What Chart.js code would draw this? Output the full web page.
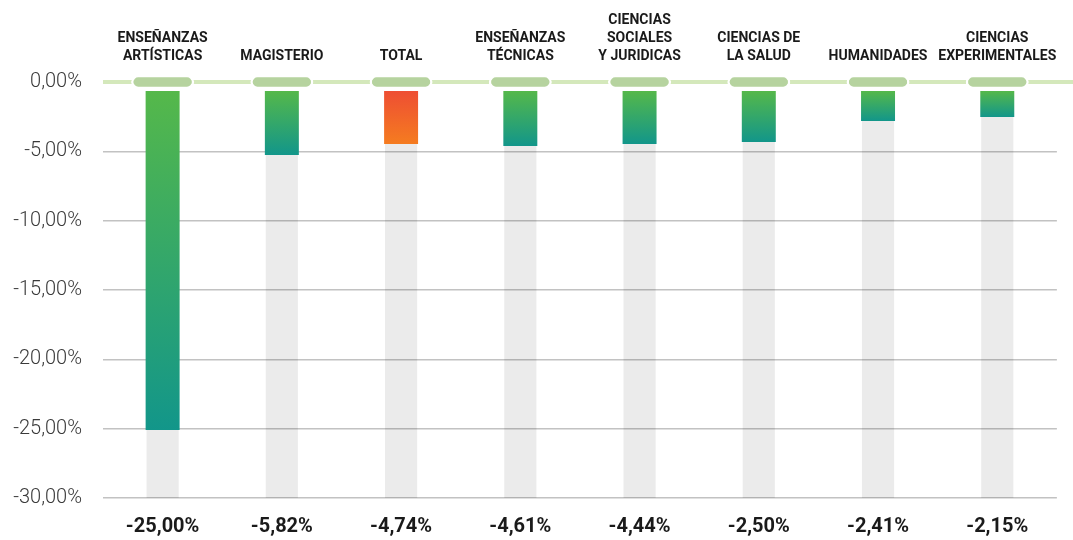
<!DOCTYPE html>
<html>
<head>
<meta charset="utf-8">
<script src="https://cdn.jsdelivr.net/npm/chart.js@4"></script>
<style>
  html, body { margin: 0; padding: 0; background: #fff; }
  #wrap { width: 1073px; height: 540px; }
</style>
</head>
<body>
<div id="wrap"><canvas id="chart"></canvas></div>
<script>
const categories = [
  ['ENSEÑANZAS', 'ARTÍSTICAS'],
  'MAGISTERIO',
  'TOTAL',
  ['ENSEÑANZAS', 'TÉCNICAS'],
  ['CIENCIAS', 'SOCIALES', 'Y JURIDICAS'],
  ['CIENCIAS DE', 'LA SALUD'],
  'HUMANIDADES',
  ['CIENCIAS', 'EXPERIMENTALES']
]
const valueLabels = ['-25,00%', '-5,82%', '-4,74%', '-4,61%', '-4,44%', '-2,50%', '-2,41%', '-2,15%']
// where each bar ends in the picture (the drawing does not follow the labels exactly)
const barEnds = [-25.1, -5.26, -4.47, -4.61, -4.47, -4.33, -2.81, -2.52]
const barStart = -0.65
const trackEnd = -30
const yTicks = ['0,00%', '-5,00%', '-10,00%', '-15,00%', '-20,00%', '-25,00%', '-30,00%']

const highlight = 'TOTAL'
const greenTeal = ['#55b84a', '#12968a']
const orange = ['#ee4e33', '#f57c20']

const gradient = (ctx) => {
  const chart = ctx.chart
  if (!chart.chartArea || ctx.type !== 'data') return greenTeal[1]
  const colors = categories[ctx.dataIndex] === highlight ? orange : greenTeal
  const y = chart.scales.y
  const g = chart.ctx.createLinearGradient(0, y.getPixelForValue(ctx.raw[0]), 0, y.getPixelForValue(ctx.raw[1]))
  g.addColorStop(0, colors[0])
  g.addColorStop(1, colors[1])
  return g
}

// light green line at 0, runs to the right edge of the picture
const zeroLine = {
  id: 'zeroLine',
  beforeDatasetsDraw(chart) {
    const c = chart.ctx
    const y = chart.scales.y.getPixelForValue(0)
    c.save()
    c.strokeStyle = '#d4e8bb'
    c.lineWidth = 4
    c.beginPath()
    c.moveTo(chart.chartArea.left, y)
    c.lineTo(chart.width, y)
    c.stroke()
    c.restore()
  }
}

const pillHalf = 0.52

new Chart(document.getElementById('chart'), {
  type: 'bar',
  data: {
    labels: categories,
    datasets: [
      {
        data: categories.map(() => [pillHalf, -pillHalf]),
        backgroundColor: '#b6d39f',
        borderColor: '#ffffff',
        borderWidth: 2.5,
        borderSkipped: false,
        borderRadius: 8,
        grouped: false,
        barPercentage: 0.53,
        categoryPercentage: 1,
        clip: false
      },
      {
        data: barEnds.map(v => [barStart, v]),
        backgroundColor: gradient,
        grouped: false,
        barPercentage: 0.285,
        categoryPercentage: 1
      },
      {
        data: barEnds.map(() => [barStart, trackEnd]),
        backgroundColor: 'rgba(0,0,0,0.08)',
        grouped: false,
        barPercentage: 0.27,
        categoryPercentage: 1
      }
    ]
  },
  options: {
    responsive: true,
    maintainAspectRatio: false,
    animation: false,
    layout: { padding: { left: 2, right: 12 } },
    plugins: {
      legend: { display: false },
      tooltip: { enabled: false }
    },
    scales: {
      x: {
        position: 'top',
        grid: { display: false, drawTicks: false },
        border: { display: false },
        ticks: {
          color: '#1a1a1a',
          font: { family: 'Roboto', size: 14, weight: 'bold', lineHeight: 1.3 },
          padding: 16,
          maxRotation: 0,
          autoSkip: false
        },
        afterFit: (s) => { s.height = 82 }
      },
      x2: {
        type: 'category',
        labels: valueLabels,
        position: 'bottom',
        offset: true,
        grid: { display: false, drawTicks: false },
        border: { display: false },
        ticks: {
          color: '#1a1a1a',
          font: { family: 'Roboto', size: 20, weight: 'bold', lineHeight: 1.2 },
          padding: 17,
          maxRotation: 0,
          autoSkip: false
        },
        afterFit: (s) => { s.height = 42 }
      },
      y: {
        min: trackEnd,
        max: 0,
        grid: {
          color: (ctx) => ctx.tick && ctx.tick.value === 0 ? 'rgba(0,0,0,0)' : '#c2c2c2',
          lineWidth: 1.5,
          drawTicks: false
        },
        border: { display: false },
        ticks: {
          stepSize: 5,
          color: '#3a3a3a',
          font: { family: 'Roboto', size: 20, weight: '300' },
          padding: 21,
          callback: (v) => yTicks[Math.round(-v / 5)]
        },
        afterFit: (s) => { s.width = 101 }
      }
    }
  },
  plugins: [zeroLine]
})
</script>
</body>
</html>
